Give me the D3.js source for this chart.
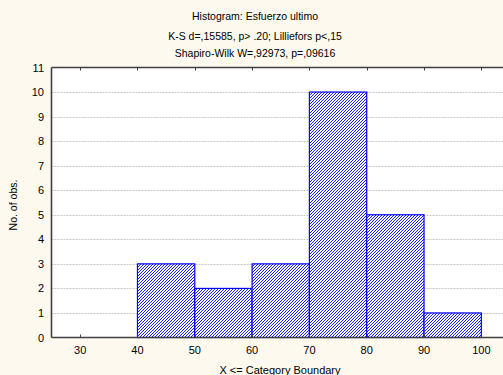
<!DOCTYPE html>
<html lang="en">
<head>
<meta charset="UTF-8">
<title>Histogram</title>
<script src="https://d3js.org/d3.v7.min.js"></script>
<style>
  body { margin: 0; background: #fdf9ee; }
  text { font-family: "Liberation Sans", Arial, sans-serif; fill: #000; }
</style>
</head>
<body>
<div id="chart"></div>
<script>
// bin upper boundaries and counts
var bounds = [30, 40, 50, 60, 70, 80, 90, 100];
var counts = [0, 0, 3, 2, 3, 10, 5, 1];
var yTicks = [0, 1, 2, 3, 4, 5, 6, 7, 8, 9, 10, 11];
var titleLines = [
  "Histogram: Esfuerzo ultimo",
  "K-S d=,15585, p> .20; Lilliefors p<,15",
  "Shapiro-Wilk W=,92973, p=,09616"
];

var W = 503, H = 375;
var svg = d3.select("#chart").append("svg")
    .attr("width", W).attr("height", H);

svg.append("rect").attr("width", W).attr("height", H).attr("fill", "#fdf9ee");

var x = d3.scaleLinear().domain([25, 105]).range([51.5, 510]);
var y = d3.scaleLinear().domain([0, 11]).range([337.5, 67.5]);

// hatch pattern: pixel "/" diagonals, period 3px
var pat = svg.append("defs").append("pattern")
    .attr("id", "hatch")
    .attr("patternUnits", "userSpaceOnUse")
    .attr("width", 3).attr("height", 3);
pat.append("rect").attr("width", 3).attr("height", 3).attr("fill", "#fff");
[[0, 2], [1, 1], [2, 0]].forEach(function(p) {
  pat.append("rect").attr("x", p[0]).attr("y", p[1])
      .attr("width", 1).attr("height", 1)
      .attr("fill", "#1a1aff").attr("shape-rendering", "crispEdges");
});

// plot area
svg.append("rect")
    .attr("x", x(25)).attr("y", y(11))
    .attr("width", x(105) - x(25)).attr("height", y(0) - y(11))
    .attr("fill", "#fff");

// grid
svg.append("g").selectAll("line")
    .data(yTicks.filter(function(d) { return d > 0 && d < 11; }))
    .enter().append("line")
    .attr("x1", x(25)).attr("x2", x(105))
    .attr("y1", function(d) { return Math.round(y(d)) + 0.5; })
    .attr("y2", function(d) { return Math.round(y(d)) + 0.5; })
    .attr("stroke", "#c8c8c8")
    .attr("stroke-dasharray", "2,1");

// bars
var bins = bounds.map(function(b, i) { return {lo: b - 10, hi: b, n: counts[i]}; })
    .filter(function(d) { return d.n > 0; });

svg.append("g").selectAll("rect")
    .data(bins)
    .enter().append("rect")
    .attr("x", function(d) { return x(d.lo); })
    .attr("y", function(d) { return y(d.n); })
    .attr("width", function(d) { return x(d.hi) - x(d.lo); })
    .attr("height", function(d) { return y(0) - y(d.n); })
    .attr("fill", "url(#hatch)")
    .attr("stroke", "#0000ff")
    .attr("stroke-width", 1.2);

// frame
var frame = svg.append("g").attr("stroke", "#404040").attr("stroke-width", 1.6).attr("fill", "none");
frame.append("line").attr("x1", x(25)).attr("x2", x(105)).attr("y1", y(0)).attr("y2", y(0));
frame.append("line").attr("x1", x(25)).attr("x2", x(105)).attr("y1", y(11)).attr("y2", y(11));
frame.append("line").attr("x1", x(25)).attr("x2", x(25)).attr("y1", y(0)).attr("y2", y(11));

// x ticks (inside, top and bottom)
var xt = svg.append("g").attr("stroke", "#404040").attr("stroke-width", 1);
bounds.forEach(function(b) {
  var px = Math.round(x(b)) + 0.5;
  xt.append("line").attr("x1", px).attr("x2", px).attr("y1", y(0)).attr("y2", y(0) - 3);
  xt.append("line").attr("x1", px).attr("x2", px).attr("y1", y(11)).attr("y2", y(11) + 3);
});

// x labels
svg.append("g").selectAll("text")
    .data(bounds)
    .enter().append("text")
    .attr("x", function(d) { return x(d); })
    .attr("y", 354)
    .attr("text-anchor", "middle")
    .attr("font-size", 11)
    .text(function(d) { return d; });

// y labels
svg.append("g").selectAll("text")
    .data(yTicks)
    .enter().append("text")
    .attr("x", 44)
    .attr("y", function(d) { return y(d) + 4; })
    .attr("text-anchor", "end")
    .attr("font-size", 11)
    .text(function(d) { return d; });

// titles
svg.append("g").selectAll("text")
    .data(titleLines)
    .enter().append("text")
    .attr("x", 255)
    .attr("y", function(d, i) { return [20, 40, 57][i]; })
    .attr("text-anchor", "middle")
    .attr("font-size", 10.5)
    .text(function(d) { return d; });

svg.append("text")
    .attr("transform", "translate(17,205) rotate(-90)")
    .attr("text-anchor", "middle")
    .attr("font-size", 10.5)
    .text("No. of obs.");

svg.append("text")
    .attr("x", 280).attr("y", 374)
    .attr("text-anchor", "middle")
    .attr("font-size", 11)
    .text("X <= Category Boundary");
</script>
</body>
</html>
